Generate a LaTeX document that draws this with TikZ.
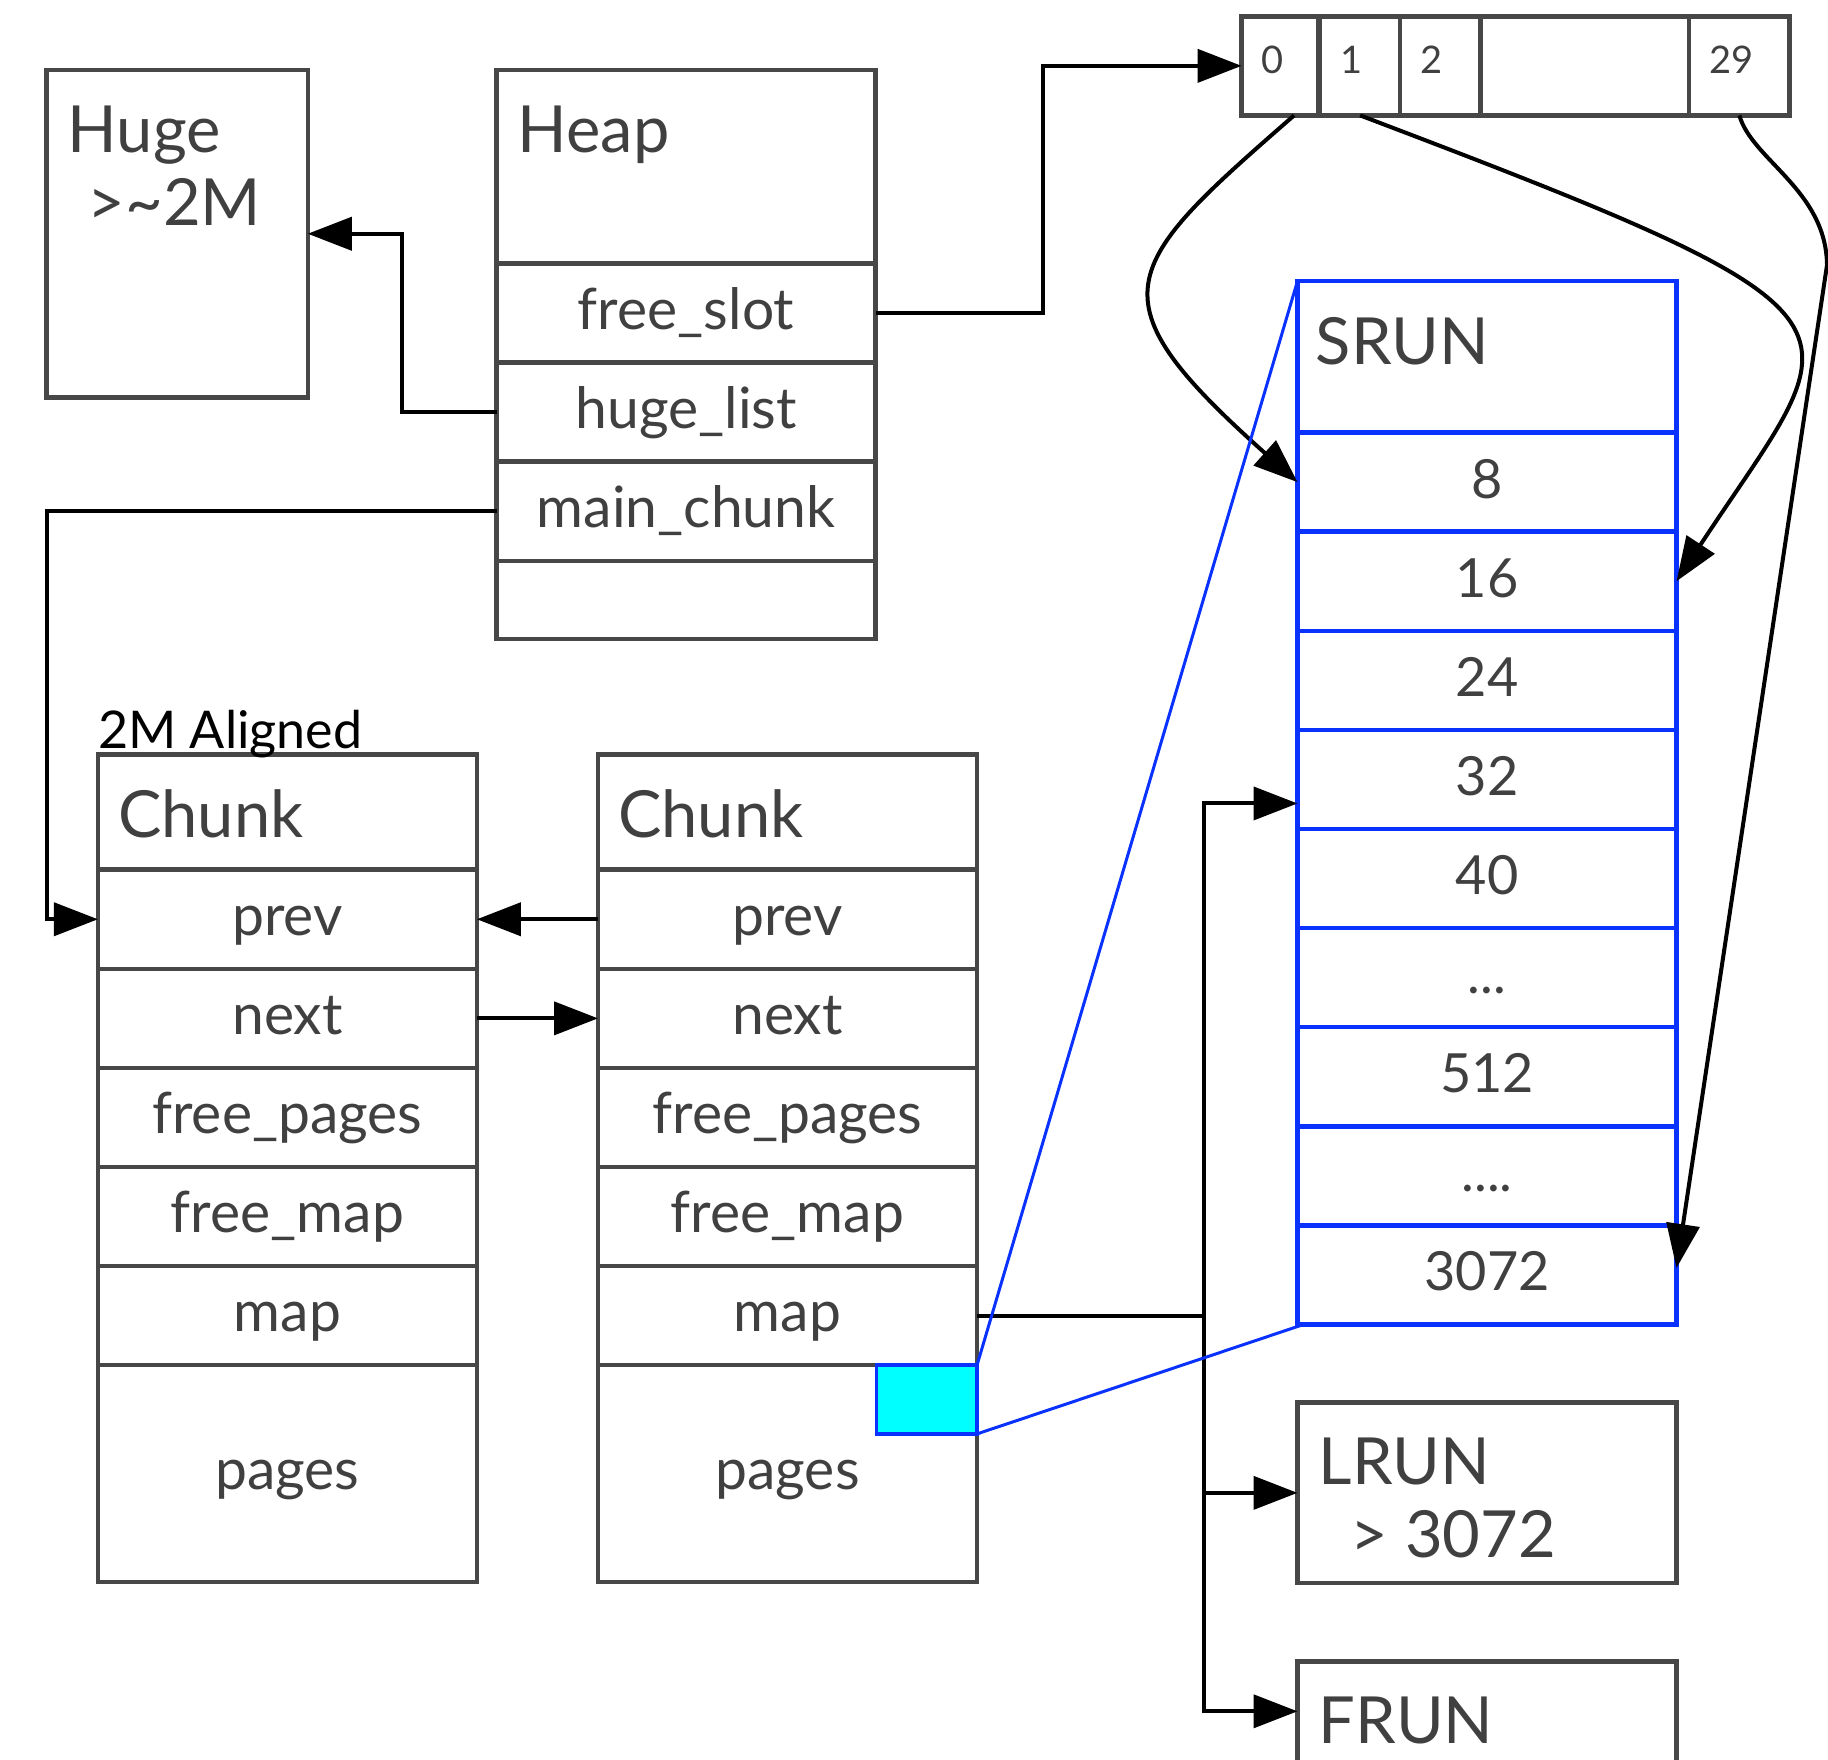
\documentclass[tikz,border=0pt]{standalone}
\usepackage{fontspec}
\setmainfont{Lato}
\usetikzlibrary{arrows.meta, positioning, calc}

\definecolor{boxgray}{HTML}{474747}
\definecolor{txtgray}{HTML}{404040}
\definecolor{runblue}{HTML}{0A32FF}
\definecolor{pagecyan}{HTML}{00FFFF}

\tikzstyle{box} = [
    rectangle,
    draw=boxgray,
    line width=4.5pt,
    inner sep=0pt,
    outer sep=0pt,
    minimum width=379pt,
    text=txtgray,
    font=\fontsize{57}{66}\selectfont,
    text height=42pt,
    text depth=10pt
]
\tikzstyle{head} = [box, anchor=north west]
\tikzstyle{field} = [box, minimum height=99.1pt]
\tikzstyle{sfield} = [field, draw=runblue, font=\fontsize{54}{62}\selectfont]
\tikzstyle{title} = [
    anchor=base west,
    inner sep=0pt,
    text=txtgray,
    align=left,
    font=\fontsize{65}{73}\selectfont
]
\tikzstyle{slot} = [
    rectangle,
    draw=boxgray,
    line width=4.5pt,
    inner xsep=20pt,
    inner ysep=0pt,
    outer sep=0pt,
    anchor=north west,
    minimum height=99.1pt,
    align=left,
    text=txtgray,
    font=\fontsize{38}{44}\selectfont,
    text height=15pt,
    text depth=0pt
]
\tikzstyle{arrow} = [
    line width=4pt,
    -{Triangle[length=44pt, width=33pt]}
]
\tikzstyle{wire} = [line width=4pt]
\tikzstyle{zoom} = [draw=runblue, line width=3pt]

\begin{document}
\begin{tikzpicture}[x=1pt, y=-1pt]
    \useasboundingbox (0,0) rectangle (1828,1759);

    % Huge
    \node[head, minimum width=261.2pt, minimum height=327.5pt] (huge) at (46.6,70) {};
    \node[title] (huge-t) at ($(huge.north west)+(21,155)$) {Huge\\\hspace*{20pt}>\textasciitilde 2M};

    % Heap
    \node[head, minimum height=193.5pt] (heap) at (496.6,70) {};
    \node[title] (heap-t) at ($(heap.north west)+(21,82)$) {Heap};
    \node[field, below=0pt of heap] (fslot) {free\_slot};
    \node[field, below=0pt of fslot] (hlist) {huge\_list};
    \node[field, below=0pt of hlist] (mchunk) {main\_chunk};
    \node[box, minimum height=78.1pt, below=0pt of mchunk] (heap-end) {};

    % free slots
    \node[slot, text width=37pt] (c0) at (1241.6,16.3) {0};
    \node[slot, text width=40pt, right=1.5pt of c0] (c1) {1};
    \node[slot, text width=40.5pt, right=0pt of c1] (c2) {2};
    \node[slot, text width=168.6pt, right=0pt of c2] (cdots) {};
    \node[slot, text width=60.3pt, right=0pt of cdots] (c29) {29};

    % Chunks
    \foreach \c/\x in {ca/97.9, cb/598} {
        \node[head, minimum height=115.4pt] (\c) at (\x,754.3) {};
        \node[title] (\c-t) at ($(\c.north west)+(20,83)$) {Chunk};
        \node[field, below=0pt of \c] (\c-prev) {prev};
        \node[field, below=0pt of \c-prev] (\c-next) {next};
        \node[field, below=0pt of \c-next] (\c-fpages) {free\_pages};
        \node[field, below=0pt of \c-fpages] (\c-fmap) {free\_map};
        \node[field, below=0pt of \c-fmap] (\c-map) {map};
        \node[box, minimum height=216.8pt, below=0pt of \c-map] (\c-pages) {pages};
    }
    \node[anchor=base west, inner sep=0pt, font=\fontsize{52}{60}\selectfont] (aligned) at ($(ca.north west)+(0,-6)$) {2M Aligned};
    \node[draw=runblue, fill=pagecyan, line width=3.5pt, minimum width=100.3pt, minimum height=68.7pt,
          inner sep=0pt, outer sep=0pt, anchor=north east] (page) at (cb-pages.north east) {};

    % SRUN
    \node[head, draw=runblue, minimum height=151.6pt] (srun) at (1297.5,281) {};
    \node[title] (srun-t) at ($(srun.north west)+(18,83)$) {SRUN};
    \node[sfield, below=0pt of srun] (r8) {8};
    \node[sfield, below=0pt of r8] (r16) {16};
    \node[sfield, below=0pt of r16] (r24) {24};
    \node[sfield, below=0pt of r24] (r32) {32};
    \node[sfield, below=0pt of r32] (r40) {40};
    \node[sfield, below=0pt of r40] (rdots) {...};
    \node[sfield, below=0pt of rdots] (r512) {512};
    \node[sfield, below=0pt of r512] (rmore) {....};
    \node[sfield, below=0pt of rmore] (r3072) {3072};

    % LRUN, FRUN
    \node[head, minimum height=180.7pt] (lrun) at (1297.5,1402.5) {};
    \node[title] (lrun-t) at ($(lrun.north west)+(21,155)$) {LRUN\\\hspace*{32pt}> 3072};
    \node[head, minimum height=180.7pt] (frun) at (1297.5,1661.3) {};
    \node[title] (frun-t) at ($(frun.north west)+(21,82)$) {FRUN};

    % Edges
    \draw[arrow] (fslot.east) -- ++(167,0) |- (c0.west);
    \draw[arrow] (hlist.west) -- ++(-94.4,0) |- (huge.east);
    \draw[arrow] (mchunk.west) -- (mchunk.west -| huge.west) |- (ca-prev.west);
    \draw[arrow] (cb-prev.west) -- (ca-prev.east);
    \draw[arrow] (ca-next.east) -- (cb-next.west);
    \draw[wire] (cb-map.east) -- ++(227.3,0) coordinate (fork);
    \draw[arrow] (fork) |- ($(r32.west)+(0,24)$);
    \draw[arrow] (fork) |- (lrun.west);
    \draw[arrow] (fork) |- ($(frun.north west)+(0,50)$);

    % size classes
    \draw[arrow] ([xshift=14pt]c0.south) .. controls (1119,268) and (1090,297) .. (r8.west);
    \draw[arrow] (c1.south) .. controls (1905,322) and (1850,317) .. (r16.east);
    \draw[arrow] (c29.south) .. controls (1752,160) and (1826,190) .. (1827,265) -- ([yshift=7pt]r3072.east);

    % page -> run
    \draw[zoom] (page.north east) -- (srun.north west);
    \draw[zoom] (page.south east) -- ([xshift=6pt]r3072.south west);

\end{tikzpicture}
\end{document}
